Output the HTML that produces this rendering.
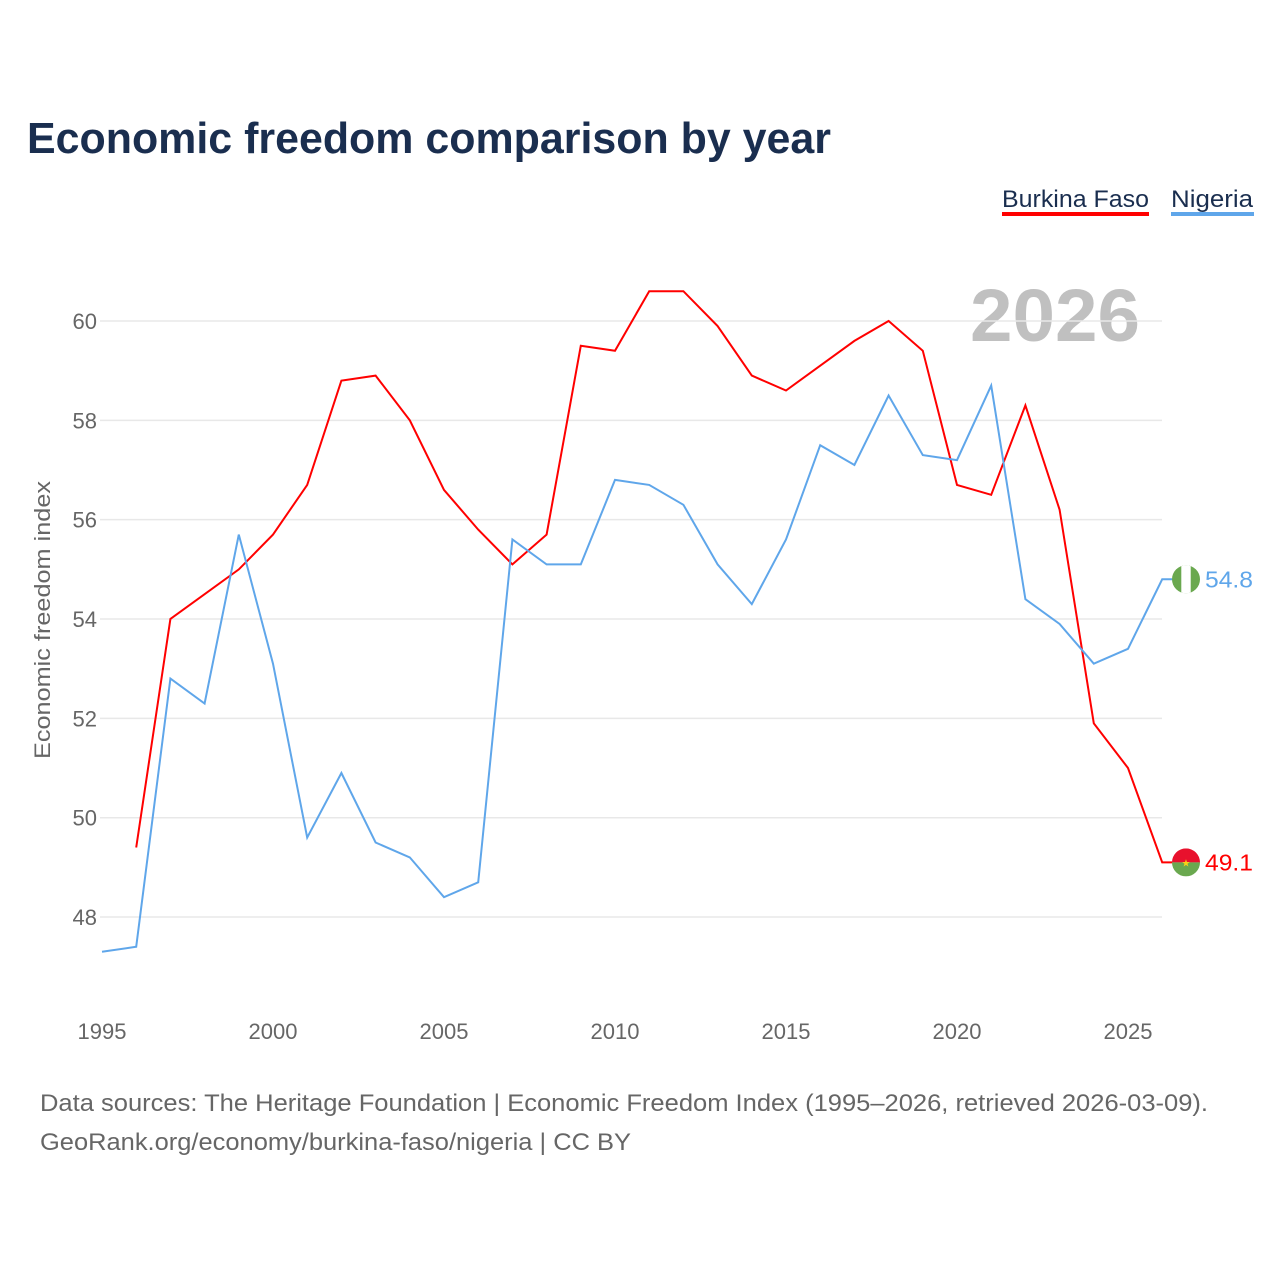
<!DOCTYPE html>
<html><head><meta charset="utf-8"><style>
html,body{margin:0;padding:0;background:#fff;}
body{width:1280px;height:1280px;overflow:hidden;font-family:"Liberation Sans",sans-serif;}
</style></head><body>
<svg id="chart" width="1280" height="1280" xmlns="http://www.w3.org/2000/svg">
<text x="27" y="153" font-size="44" font-weight="bold" fill="#1a2e4f" textLength="804" lengthAdjust="spacingAndGlyphs">Economic freedom comparison by year</text>
<g>
<text x="1002" y="207" font-size="24" fill="#1a2e4f" textLength="147" lengthAdjust="spacingAndGlyphs">Burkina Faso</text>
<rect x="1002" y="212" width="147" height="4" fill="#ff0000"/>
<text x="1171" y="207" font-size="24" fill="#1a2e4f" textLength="82" lengthAdjust="spacingAndGlyphs">Nigeria</text>
<rect x="1171" y="212" width="83" height="4" fill="#5fa6ea"/>
</g>
<text x="1140" y="341" font-size="74" font-weight="bold" fill="#c0c0c0" text-anchor="end" textLength="170" lengthAdjust="spacingAndGlyphs">2026</text>
<g id="grid"></g><g id="yticks"></g><g id="xticks"></g><g id="lines"></g><g id="ends"></g>
<text transform="translate(50,620) rotate(-90)" font-size="22" fill="#666" text-anchor="middle" textLength="278" lengthAdjust="spacingAndGlyphs">Economic freedom index</text>
<text x="40" y="1111" font-size="24" fill="#666" textLength="1168" lengthAdjust="spacingAndGlyphs">Data sources: The Heritage Foundation | Economic Freedom Index (1995–2026, retrieved 2026-03-09).</text>
<text x="40" y="1150" font-size="24" fill="#666" textLength="591" lengthAdjust="spacingAndGlyphs">GeoRank.org/economy/burkina-faso/nigeria | CC BY</text>
</svg>
<script>
const years=[1995,1996,1997,1998,1999,2000,2001,2002,2003,2004,2005,2006,2007,2008,2009,2010,2011,2012,2013,2014,2015,2016,2017,2018,2019,2020,2021,2022,2023,2024,2025,2026];
const burkina=[null,49.4,54.0,54.5,55.0,55.7,56.7,58.8,58.9,58.0,56.6,55.8,55.1,55.7,59.5,59.4,60.6,60.6,59.9,58.9,58.6,59.1,59.6,60.0,59.4,56.7,56.5,58.3,56.2,51.9,51.0,49.1];
const nigeria=[47.3,47.4,52.8,52.3,55.7,53.1,49.6,50.9,49.5,49.2,48.4,48.7,55.6,55.1,55.1,56.8,56.7,56.3,55.1,54.3,55.6,57.5,57.1,58.5,57.3,57.2,58.7,54.4,53.9,53.1,53.4,54.8];
const yTicks=[48,50,52,54,56,58,60];
const xTicks=[1995,2000,2005,2010,2015,2020,2025];
const NS="http://www.w3.org/2000/svg";
const xS=y=>102+(y-1995)*34.2;
const yS=v=>321+(60-v)*49.67;
function mk(t,a,p){const e=document.createElementNS(NS,t);for(const k in a)e.setAttribute(k,a[k]);document.getElementById(p).appendChild(e);return e;}
yTicks.forEach(v=>{
 const l=mk('line',{x1:100,x2:1162,y1:yS(v),y2:yS(v),stroke:'#e8e8e8','stroke-width':1.5},'grid');
 
 
 const t=mk('text',{x:97,y:yS(v)+8,'font-size':22,fill:'#666','text-anchor':'end'},'yticks');
 t.textContent=v;
 
 
});
xTicks.forEach(v=>{
 const t=mk('text',{x:xS(v),y:1039,'font-size':22,fill:'#666','text-anchor':'middle'},'xticks');
 t.textContent=v;
 
 
});
function line(data,color,name){
 let d='';data.forEach((v,i)=>{if(v==null)return;d+=(d?'L':'M')+xS(years[i]).toFixed(1)+','+yS(v).toFixed(1);});
 const last=data[data.length-1];
 d+='L'+(xS(years[years.length-1])+10).toFixed(1)+','+yS(last).toFixed(1);
 const p=mk('path',{d:d,fill:'none',stroke:color,'stroke-width':2},'lines');
 
 
}
line(burkina,'#ff0000','line-burkina-faso');
line(nigeria,'#5fa6ea','line-nigeria');
function end(v,color,name,flag){
 const cx=1186,cy=yS(v);
 const g=mk('g',{},'ends');
 
 
 if(flag==='ng'){
  g.innerHTML=`<clipPath id="cng"><circle cx="${cx}" cy="${cy}" r="14"/></clipPath><g clip-path="url(#cng)"><rect x="${cx-14}" y="${cy-14}" width="28" height="28" fill="#6aa84f"/><rect x="${cx-4.7}" y="${cy-14}" width="9.4" height="28" fill="#fff"/></g>`;
 }else{
  g.innerHTML=`<clipPath id="cbf"><circle cx="${cx}" cy="${cy}" r="14"/></clipPath><g clip-path="url(#cbf)"><rect x="${cx-14}" y="${cy-14}" width="28" height="14" fill="#e8112d"/><rect x="${cx-14}" y="${cy}" width="28" height="14" fill="#6aa84f"/></g><text x="${cx}" y="${cy+4}" font-size="10" fill="#fcd116" text-anchor="middle">★</text>`;
 }
 const t=mk('text',{x:1205,y:cy+8,'font-size':23,fill:color,textLength:48,lengthAdjust:'spacingAndGlyphs'},'ends');
 t.textContent=v.toFixed(1);
 
 
}
end(nigeria[nigeria.length-1],'#5fa6ea','nigeria','ng');
end(burkina[burkina.length-1],'#ff0000','burkina-faso','bf');
</script>
</body></html>
